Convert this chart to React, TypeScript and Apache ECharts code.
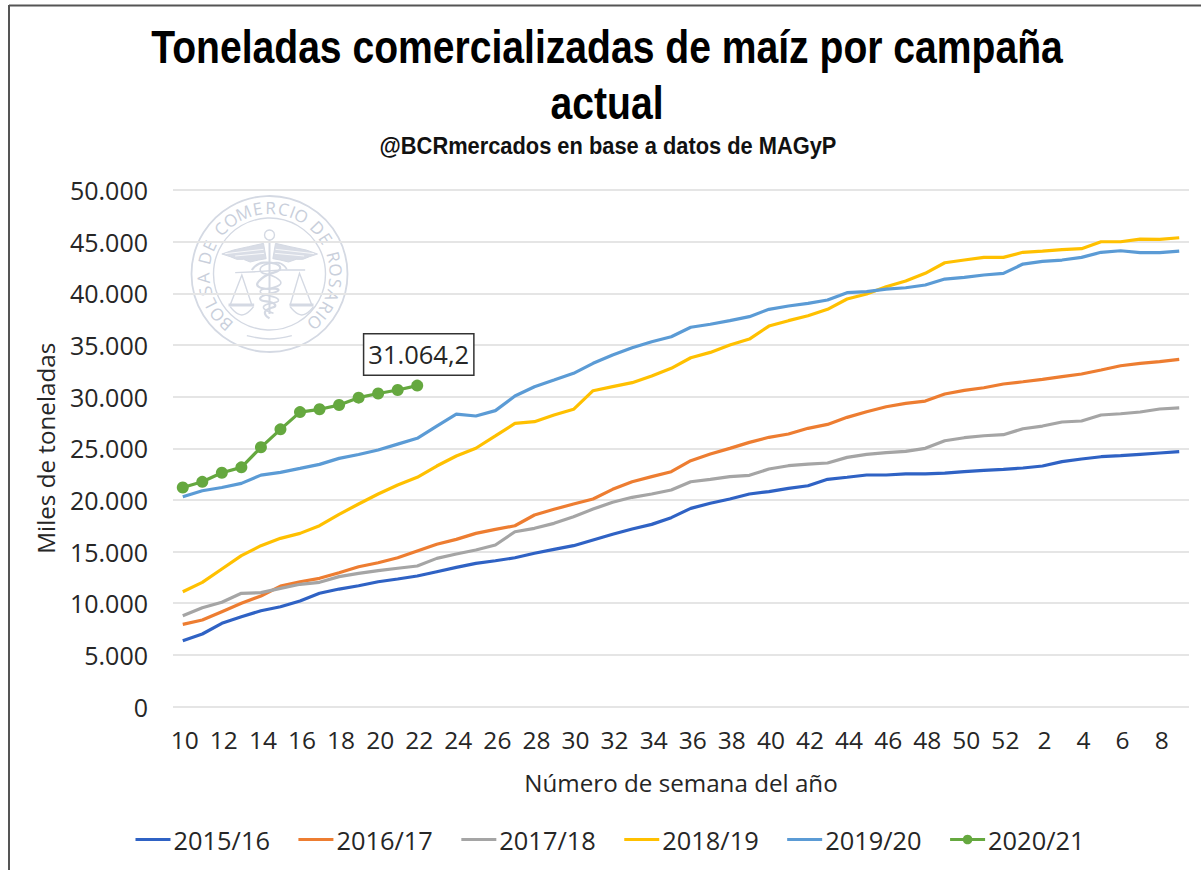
import React, { useEffect, useRef } from "react";
import * as echarts from "echarts";

const weeks = [10,11,12,13,14,15,16,17,18,19,20,21,22,23,24,25,26,27,28,29,30,31,32,33,34,35,36,37,38,39,40,41,42,43,44,45,46,47,48,49,50,51,52,1,2,3,4,5,6,7,8,9].map(String);

const s2015 = [6370,7020,8050,8690,9270,9660,10210,10960,11370,11690,12080,12340,12630,13050,13470,13860,14110,14400,14830,15210,15570,16120,16670,17180,17630,18280,19180,19670,20090,20570,20800,21120,21370,21990,22190,22410,22410,22510,22510,22600,22730,22860,22960,23090,23280,23700,23960,24180,24280,24410,24540,24670];
const s2016 = [7950,8370,9180,9990,10700,11660,12080,12410,12950,13530,13920,14400,15050,15700,16180,16760,17150,17500,18540,19090,19600,20090,21020,21760,22250,22730,23800,24440,24990,25570,26060,26380,26930,27310,27990,28540,29020,29350,29570,30250,30600,30860,31220,31440,31670,31930,32190,32570,32990,33220,33380,33610];
const s2017 = [8790,9560,10090,10960,11020,11440,11830,12020,12570,12890,13150,13380,13600,14340,14760,15150,15630,16920,17250,17730,18370,19110,19770,20250,20570,20960,21760,21990,22250,22380,22990,23310,23470,23570,24120,24410,24570,24700,24990,25730,26020,26210,26310,26890,27150,27540,27640,28220,28340,28510,28800,28900];
const s2018 = [11110,12020,13310,14600,15570,16280,16760,17500,18600,19600,20570,21440,22190,23280,24250,25000,26190,27410,27570,28220,28770,30570,30960,31350,32000,32740,33760,34280,34990,35570,36830,37350,37830,38450,39450,39930,40640,41190,41930,42960,43220,43480,43480,43970,44090,44220,44320,44990,44990,45250,45220,45380];
const s2019 = [20300,20890,21200,21600,22400,22670,23050,23440,24020,24400,24830,25400,25960,27150,28310,28120,28640,30060,30960,31600,32250,33220,34030,34730,35310,35800,36710,37000,37350,37740,38450,38770,39030,39350,40060,40160,40410,40540,40800,41380,41550,41770,41930,42830,43090,43220,43480,43970,44120,43930,43930,44090];
const s2020 = [21200,21750,22630,23150,25090,26830,28500,28770,29180,29900,30300,30640,31064.2];

const seriesNames = ["2015/16","2016/17","2017/18","2018/19","2019/20","2020/21"];
const seriesColors = ["#2F62C4","#ED7D31","#A5A5A5","#FFC000","#5B9BD5","#65A83F"];
const seriesValues = [s2015,s2016,s2017,s2018,s2019,s2020];

const titleText = "Toneladas comercializadas de maíz por campaña\nactual";
const subtitleText = "@BCRmercados en base a datos de MAGyP";
const yName = "Miles de toneladas";
const xName = "Número de semana del año";
const lastLabel = "31.064,2";
const sealText = "BOLSA DE COMERCIO DE ROSARIO";

const FONT = "'Open Sans', sans-serif";
const TXT = "#262626";
const SEAL = "#d4d9e3";

// seal coordinates measured in the 3x crop, centred on (268, 252)
const p = (x: number, y: number) => [(x - 268) / 3, (y - 252) / 3];
const pts = (a: number[][]) => a.map(([x, y]) => p(x, y));

function sealElements() {
  const line = { stroke: SEAL, fill: "none", lineWidth: 1.4 };
  const feather = { stroke: "#ffffff", fill: "none", lineWidth: 0.8 };
  const out: any[] = [
    { type: "circle", shape: { cx: 0, cy: 0, r: 78 }, style: { ...line, lineWidth: 1.8 } },
    { type: "circle", shape: { cx: 0, cy: 0, r: 56 }, style: line },
    { type: "polygon", shape: { points: pts([[250,160],[205,170],[160,180],[125,192],[150,200],[170,208],[190,208],[210,216],[235,210],[258,206]]) }, style: { fill: "#d9dde6", stroke: SEAL, lineWidth: 1 } },
    { type: "polygon", shape: { points: pts([[286,160],[330,170],[378,180],[412,192],[388,200],[368,208],[348,208],[325,216],[300,210],[278,206]]) }, style: { fill: "#d9dde6", stroke: SEAL, lineWidth: 1 } },
    { type: "polyline", shape: { points: pts([[135,191],[250,178]]) }, style: feather },
    { type: "polyline", shape: { points: pts([[165,198],[252,190]]) }, style: feather },
    { type: "polyline", shape: { points: pts([[402,191],[286,178]]) }, style: feather },
    { type: "polyline", shape: { points: pts([[372,198],[284,190]]) }, style: feather },
    { type: "circle", shape: { cx: 0, cy: -39, r: 5 }, style: line },
    { type: "line", shape: { x1: 0, y1: -34, x2: 0, y2: 40 }, style: { stroke: SEAL, lineWidth: 2 } },
    { type: "polyline", shape: { points: pts([[165,248],[230,245],[305,240],[375,240]]) }, style: line },
    { type: "polyline", shape: { points: pts([[150,345],[185,255],[215,345]]) }, style: line },
    { type: "polyline", shape: { points: pts([[330,345],[358,250],[395,345]]) }, style: line },
    { type: "polyline", shape: { points: pts([[145,345],[222,345]]) }, style: { stroke: SEAL, lineWidth: 3 } },
    { type: "polyline", shape: { points: pts([[328,345],[400,345]]) }, style: { stroke: SEAL, lineWidth: 3 } },
    { type: "polyline", shape: { smooth: 0.5, points: pts([[150,350],[185,375],[220,350]]) }, style: line },
    { type: "polyline", shape: { smooth: 0.5, points: pts([[330,350],[365,375],[400,350]]) }, style: line },
    { type: "polyline", shape: { smooth: 0.6, points: pts([[215,240],[250,218],[300,235],[245,265],[235,290],[295,300],[240,325],[285,345],[255,365],[268,385]]) }, style: { ...line, lineWidth: 2.2 } },
    { type: "polyline", shape: { smooth: 0.6, points: pts([[320,238],[290,218],[240,240],[295,268],[298,285],[240,305],[295,330],[250,350],[280,370]]) }, style: { ...line, lineWidth: 1.6 } },
    { type: "polyline", shape: { smooth: 0.4, points: pts([[200,437],[268,447],[335,437]]) }, style: line },
  ];
  const chars = sealText.split("");
  const weight = (c: string) => (c === "I" ? 0.45 : c === " " ? 0.55 : c === "M" ? 1.25 : 1);
  const total = chars.reduce((s, c) => s + weight(c), 0) - (weight(chars[0]) + weight(chars[chars.length - 1])) / 2;
  const from = -139, to = 137;
  let run = 0;
  chars.forEach((c, i) => {
    if (i > 0) run += (weight(chars[i - 1]) + weight(c)) / 2;
    if (c === " ") return;
    const deg = from + ((to - from) * run) / total;
    const a = (deg * Math.PI) / 180;
    out.push({
      type: "text",
      x: Math.sin(a) * 66.5,
      y: -Math.cos(a) * 66.5,
      rotation: -a,
      style: { text: c, fill: "#c9cfdb", font: `17px 'Open Sans', sans-serif`, align: "center", verticalAlign: "middle" },
    });
  });
  return out;
}

export default function App() {
  const ref = useRef<HTMLDivElement>(null);
  useEffect(() => {
    const chart = echarts.init(ref.current!, undefined, { renderer: "svg" });
    chart.setOption({
      animation: false,
      backgroundColor: "#fff",
      grid: { left: 173, right: 12, top: 190, height: 516.5 },
      legend: {
        left: 134, top: 827, padding: 0, itemWidth: 35, itemHeight: 12, itemGap: 27,
        data: seriesNames.map((name, i) => ({
          name,
          lineStyle: { width: 3 },
          itemStyle: i === seriesNames.length - 1 ? {} : { opacity: 0 },
        })),
        textStyle: { fontFamily: FONT, fontSize: 25.4, color: TXT, padding: [0, 0, 0, -2] },
      },
      xAxis: {
        type: "category", data: weeks, boundaryGap: true,
        name: xName, nameLocation: "middle", nameGap: 64,
        nameTextStyle: { fontFamily: FONT, fontSize: 24.2, color: TXT },
        axisLine: { show: false }, axisTick: { show: false },
        axisLabel: { interval: 1, margin: 20, fontFamily: FONT, fontSize: 24.5, color: TXT, hideOverlap: false, padding: [0, 0, 0, 4] },
      },
      yAxis: {
        type: "value", min: 0, max: 50000, interval: 5000,
        name: yName, nameLocation: "middle", nameGap: 116,
        nameTextStyle: { fontFamily: FONT, fontSize: 24.2, color: TXT },
        axisLine: { show: false }, axisTick: { show: false },
        splitLine: { lineStyle: { color: "#e5e5e5", width: 2 } },
        axisLabel: {
          margin: 25, fontFamily: FONT, fontSize: 25, color: TXT,
          formatter: (v: number) => String(v).replace(/\B(?=(\d{3})+$)/g, "."),
        },
      },
      series: seriesNames.map((name, i) => {
        const isLast = i === seriesNames.length - 1;
        const vals = seriesValues[i];
        return {
          name, type: "line", z: 2 + i,
          symbol: isLast ? "circle" : "none", symbolSize: 12, showSymbol: isLast,
          smooth: false,
          lineStyle: { color: seriesColors[i], width: 3.2 },
          itemStyle: { color: seriesColors[i] },
          data: vals.map((v, k) =>
            isLast && k === vals.length - 1
              ? {
                  value: v,
                  label: {
                    show: true, position: "top", distance: 5, offset: [1.5, 0], formatter: lastLabel,
                    fontFamily: FONT, fontSize: 25.5, color: TXT, backgroundColor: "#fff",
                    borderColor: "#333", borderWidth: 1.5, padding: [6, 4, 8, 4],
                  },
                }
              : v
          ),
        };
      }),
      graphic: [
        { type: "line", z: 10, shape: { x1: 9, y1: 5, x2: 9, y2: 870 }, style: { stroke: "#555", lineWidth: 2 } },
        { type: "line", z: 10, shape: { x1: 9, y1: 5.5, x2: 1201, y2: 5.5 }, style: { stroke: "#555", lineWidth: 2 } },
        { type: "group", x: 269.5, y: 274, z: 1, children: sealElements() },
        { type: "text", z: 10, x: 607, y: 19, scaleX: 0.85,
          style: { text: titleText, font: "bold 46px 'Liberation Sans', sans-serif", lineHeight: 56, fill: "#000", align: "center", verticalAlign: "top" } },
        { type: "text", z: 10, x: 608, y: 134, scaleX: 0.91,
          style: { text: subtitleText, font: "bold 24px 'Liberation Sans', sans-serif", fill: "#111", align: "center", verticalAlign: "top" } },
      ],
    });
    return () => chart.dispose();
  }, []);
  return <div ref={ref} style={{ position: "absolute", left: 0, top: 0, width: 1201, height: 870 }} />;
}
